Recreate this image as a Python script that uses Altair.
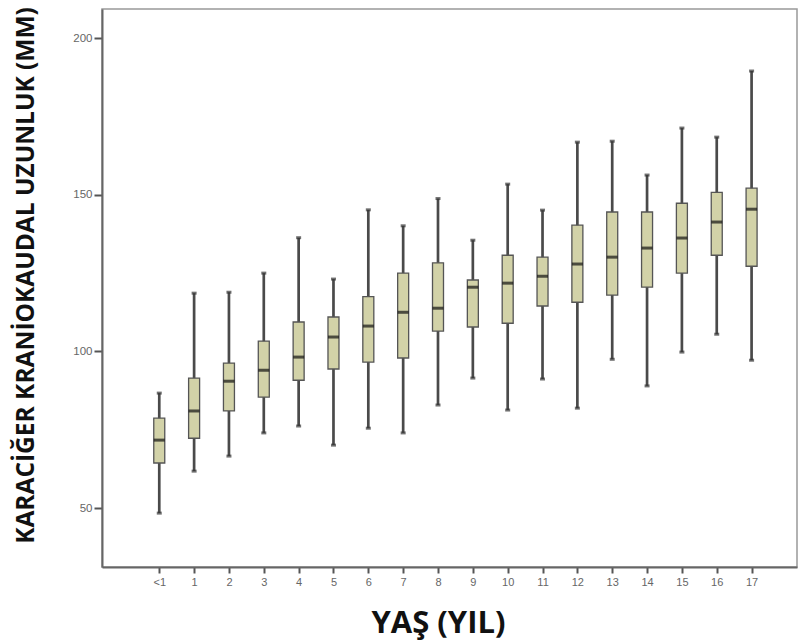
import altair as alt
import pandas as pd

age_pos = list(range(18))  # 0 stands for "<1"
whisker_low = [48.4, 61.8, 66.6, 74.0, 76.2, 70.1, 75.5, 74.0, 82.9, 91.5, 81.3, 91.2, 81.9, 97.5, 89.0, 99.8, 105.5, 97.2]
q1 = [64.4, 72.3, 81.0, 85.4, 90.8, 94.4, 96.6, 97.9, 106.5, 107.8, 109.0, 114.5, 115.7, 118.0, 120.5, 125.0, 130.7, 127.2]
median = [71.7, 81.0, 90.5, 94.0, 98.2, 104.6, 108.1, 112.5, 113.8, 120.5, 121.8, 124.0, 127.9, 130.1, 133.0, 136.2, 141.3, 145.4]
q3 = [78.7, 91.5, 96.3, 103.3, 109.4, 111.0, 117.5, 125.0, 128.3, 122.8, 130.7, 130.1, 140.3, 144.5, 144.5, 147.3, 150.8, 152.1]
whisker_high = [86.7, 118.6, 118.9, 125.0, 136.3, 123.1, 145.2, 140.1, 148.8, 135.5, 153.4, 145.1, 166.8, 167.1, 156.3, 171.3, 168.4, 189.5]
y_ticks = [50, 100, 150, 200]

df = pd.DataFrame({
    "age": age_pos,
    "lo": whisker_low,
    "q1": q1,
    "med": median,
    "q3": q3,
    "hi": whisker_high,
})

x_scale = alt.Scale(domain=[-1.5, 18.16], nice=False, zero=False)
y_scale = alt.Scale(domain=[31.2, 209.3], nice=False, zero=False)

x_axis = alt.Axis(
    values=age_pos,
    labelExpr="datum.value == 0 ? '<1' : datum.label",
    title="YAŞ (YIL)",
    grid=False,
    domainColor="#666", domainWidth=2,
    tickColor="#555", tickWidth=2, tickSize=6,
    labelColor="#666", labelFontSize=11, labelFont="Liberation Sans", labelPadding=3,
    titleFont="Open Sans", titleFontSize=31, titleFontWeight="bold", titleColor="#111",
    titleX=336, titleY=56, titleBaseline="middle", titleAnchor="start", titleAlign="center",
)
y_axis = alt.Axis(
    values=y_ticks,
    title="KARACİĞER KRANİOKAUDAL UZUNLUK (MM)",
    grid=False,
    domainColor="#666", domainWidth=2,
    tickColor="#555", tickWidth=2, tickSize=8,
    labelColor="#666", labelFontSize=11.5, labelFont="Liberation Sans", labelPadding=2,
    titleFont="Open Sans", titleFontSize=24.5, titleFontWeight="bold", titleColor="#111",
    titleX=-76, titleY=266, titleBaseline="middle", titleAlign="center", titleAngle=-90,
)

base = alt.Chart(df)

whiskers = base.mark_rule(color="#4a4a4a", strokeWidth=2.7).encode(
    x=alt.X("age:Q", scale=x_scale, axis=x_axis),
    y=alt.Y("lo:Q", scale=y_scale, axis=y_axis),
    y2="hi:Q",
)
boxes = base.mark_bar(orient="vertical", size=11, color="#d2d2a8", stroke="#555", strokeWidth=1.3).encode(
    x="age:Q",
    y="q1:Q",
    y2="q3:Q",
)
medians = base.mark_tick(orient="horizontal", size=11, thickness=3, color="#111").encode(
    x="age:Q",
    y="med:Q",
)
caps_lo = base.mark_tick(orient="horizontal", size=5, thickness=3, color="#333").encode(
    x="age:Q",
    y="lo:Q",
)
caps_hi = base.mark_tick(orient="horizontal", size=5, thickness=3, color="#333").encode(
    x="age:Q",
    y="hi:Q",
)

chart = (
    alt.layer(whiskers, boxes, medians, caps_lo, caps_hi)
    .properties(
        width=695,
        height=558,
        padding={"left": 102, "top": 9, "right": 8, "bottom": 77},
        autosize=alt.AutoSizeParams(type="none"),
        background="white",
    )
    .configure_view(stroke="#999", strokeWidth=1.5)
)

chart.save("out.html", embed_options={"renderer": "svg", "actions": False})
